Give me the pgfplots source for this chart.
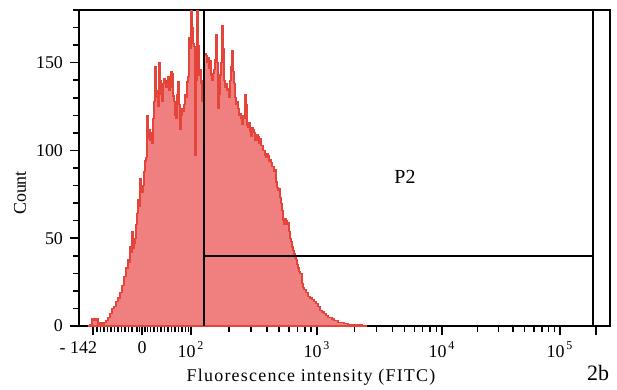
\documentclass[border=0pt]{standalone}
\usepackage{fontspec}
\setmainfont{Liberation Serif}
\usepackage{pgfplots}
\pgfplotsset{compat=1.18}
\definecolor{fillred}{RGB}{240,128,128}
\definecolor{linered}{RGB}{228,68,58}
\begin{document}
\begin{tikzpicture}
\useasboundingbox (-39.5bp,-32bp) rectangle (269bp,163bp);
\begin{axis}[
  at={(0,0)}, anchor=south west,
  scale only axis, width=265.5bp, height=158bp,
  xmin=79, xmax=610, ymin=0, ymax=180,
  axis line style={line width=1bp},
  tick align=outside, xtick pos=bottom, ytick pos=left,
  major tick length=4.5bp, minor tick length=2.8bp,
  tick style={black, line width=0.8bp},
  xtick={93,142,191,317,442,560,596},
  xticklabels={\makebox[0pt][r]{- 142\kern-2bp},0,10\textsuperscript{\,2},10\textsuperscript{\,3},10\textsuperscript{\,4},10\textsuperscript{\,5},{}},
  minor xtick={97,100.5,104,107.5,111,114.5,118,121.5,125,128.5,132,137,139.5,145,147.5,150.5,154,157.5,161,164.5,168,171.5,175,178.5,182,185.5,188.5,
    228.9,251.1,266.9,279.1,289.0,297.5,304.8,311.2,
    354.6,376.6,392.3,404.4,414.3,422.6,429.9,436.3,
    477.5,498.3,513.0,524.5,533.8,541.7,548.6,554.6},
  ytick={0,50,100,150},
  minor ytick={10,20,30,40,60,70,80,90,110,120,130,140,160,170,180},
  tick label style={font=\fontsize{9}{10}\selectfont},
  /pgf/number format/assume math mode=true,
  clip=true,
]
\addplot[const plot, fill=fillred, draw=linered, line width=0.6bp] coordinates {
(88,0)(90,1)(92,4)(94,3)(96,4)(98,1)(100,2)(102,1)(104,2)(106,3)(108,5)(110,7)(112,10)(114,11)(116,14)(118,16)(120,19)(122,23)(124,28)(126,33)(128,38)(129,36)
(130,45)(131,42)(132,54)(133,44)(134,47)(135,50)(136,58)(137,64)(138,72)(139,68)(140,84)(141,78)(142,76)(143,80)(144,88)(145,94)(146,96)(147,120)(148,107)(149,112)
(150,106)(151,110)(152,104)(153,118)(154,128)(155,148)(156,130)(157,134)(158,125)(159,150)(160,140)(161,132)(162,128)(163,138)(164,141)(165,140)(166,136)(167,140)(168,142)(169,134)
(170,136)(171,145)(172,144)(173,131)(174,128)(175,120)(176,118)(177,132)(178,139)(179,126)(180,112)(181,120)(182,124)(183,122)(184,126)(185,132)(186,130)(187,139)(188,142)(189,164)
(190,158)(191,185)(192,170)(193,161)(194,159)(195,97)(196,140)(197,185)(198,160)(199,143)(200,146)(201,138)(202,128)(203,140)(204,155)(206,154)(207,150)(208,153)(209,147)
(210,151)(211,143)(212,140)(213,144)(214,146)(215,152)(216,166)(217,150)(218,124)(219,132)(220,143)(221,150)(222,171)(223,158)(224,140)(225,136)(226,138)(227,134)(228,135)(229,130)
(230,140)(231,148)(232,157)(233,145)(234,138)(235,130)(236,126)(237,128)(238,124)(239,120)(240,121)(241,118)(242,115)(243,120)(244,118)(245,132)(246,126)(247,114)(248,113)(249,116)
(250,111)(251,108)(252,113)(253,112)(254,110)(255,106)(256,106)(257,109)(258,108)(259,104)(260,107)(261,103)(262,103)(263,100)(264,100)(265,97)(266,96)(267,98)(268,97)(269,94)
(270,95)(271,93)(272,91)(274,88)(275,89)(276,82)(277,79)(278,77)(279,78)(280,73)(281,70)(282,66)(283,60)(284,58)(285,61)(286,60)(287,58)(288,59)(289,54)
(290,50)(291,48)(292,45)(293,43)(294,41)(295,39)(296,38)(297,35)(298,33)(299,31)(300,30)(302,24)(303,22)(304,21)(306,19)(308,17)
(310,16)(312,15)(314,14)(316,13)(318,11)(320,9)(322,8)(324,7)(326,6)(328,5)(330,5)(332,4)(334,3)(336,3)(338,2)(340,2)(342,2)(344,1.5)(346,1.5)(348,1)(350,1)(354,1)(358,0.7)(362,0.5)(366,0)
} \closedcycle;
\addplot[black, line width=1bp] coordinates {(204,0)(204,180)};
\addplot[black, line width=1bp] coordinates {(204,40)(593,40)};
\addplot[black, line width=1bp] coordinates {(593,0)(593,180)};
\node[font=\fontsize{10}{12}\selectfont] at (axis cs:405,85) {P2};
\end{axis}
\node[rotate=90, font=\fontsize{9}{10}\selectfont] at (-29.5bp,66.5bp) {Count};
\node[font=\fontsize{9}{10}\selectfont\addfontfeature{LetterSpace=7}] at (116bp,-25.5bp) {Fluorescence intensity (FITC)};
\node[font=\fontsize{11}{13}\selectfont] at (259.5bp,-23.5bp) {2b};
\end{tikzpicture}
\end{document}
